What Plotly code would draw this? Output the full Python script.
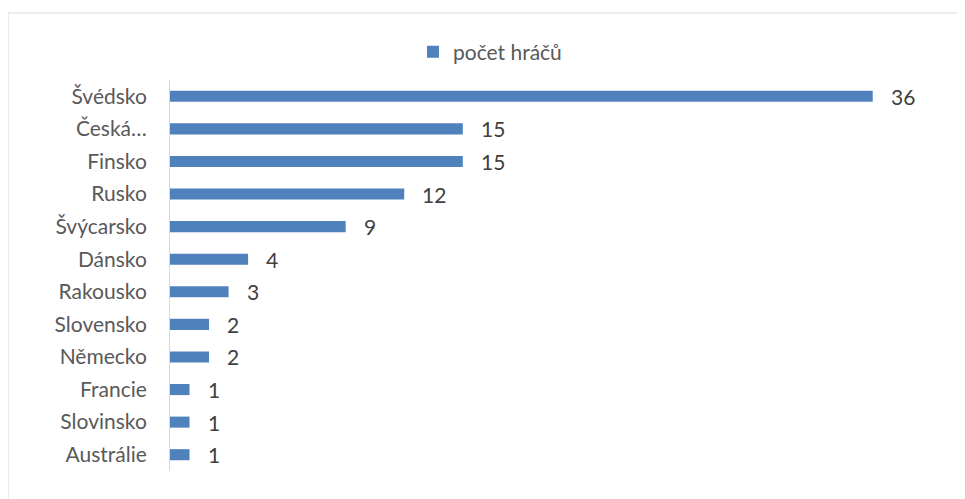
import plotly.graph_objects as go

categories = ["Švédsko", "Česká…", "Finsko", "Rusko", "Švýcarsko", "Dánsko",
              "Rakousko", "Slovensko", "Německo", "Francie", "Slovinsko", "Austrálie"]
values = [36, 15, 15, 12, 9, 4, 3, 2, 2, 1, 1, 1]
series_name = "počet hráčů"

# page body has an 8px margin, so figure pixel = screen pixel - 8
W, H = 965, 499
L, R, T, B = 162, 30, 72, 36
pw = W - L - R
ph = H - T - B
px_per_unit = 19.52
xmax = pw / px_per_unit

def px_to_paper_x(px):
    return (px - L) / pw

def px_to_paper_y(py):
    return 1 - (py - T) / ph

FONT = "Lato"
FS = 21
BAR = "#4F81BD"

fig = go.Figure()
fig.add_trace(go.Bar(
    x=values, y=categories, orientation="h", name=series_name,
    marker=dict(color=BAR, line=dict(width=0)),
    showlegend=True,
))

for c, v in zip(categories, values):
    fig.add_annotation(x=v, y=c, text=str(v), showarrow=False,
                       xanchor="left", xshift=16,
                       font=dict(family=FONT, size=FS, color="#404040"))

fig.add_shape(type="rect", xref="paper", yref="paper",
              x0=px_to_paper_x(0), x1=px_to_paper_x(1010),
              y0=px_to_paper_y(520), y1=px_to_paper_y(5),
              line=dict(color="#D9D9D9", width=1), fillcolor="rgba(0,0,0,0)", layer="below")

fig.update_layout(
    width=W, height=H,
    margin=dict(l=L, r=R, t=T, b=B),
    paper_bgcolor="white", plot_bgcolor="white",
    bargap=0.66,
    font=dict(family=FONT, size=FS, color="#595959"),
    showlegend=True,
    legend=dict(orientation="h", x=px_to_paper_x(405), xanchor="left",
                y=px_to_paper_y(44), yanchor="middle",
                font=dict(family=FONT, size=FS, color="#595959"),
                bgcolor="rgba(0,0,0,0)"),
    xaxis=dict(range=[0, xmax], showgrid=False, zeroline=False, showline=False,
               showticklabels=False, ticks="", fixedrange=True),
    yaxis=dict(categoryorder="array", categoryarray=categories, autorange="reversed",
               showgrid=False, zeroline=False, showline=True, linecolor="#D9D9D9",
               linewidth=1, ticks="", ticklabelstandoff=18,
               tickfont=dict(family=FONT, size=FS, color="#595959")),
)

fig.write_html("out.html")
